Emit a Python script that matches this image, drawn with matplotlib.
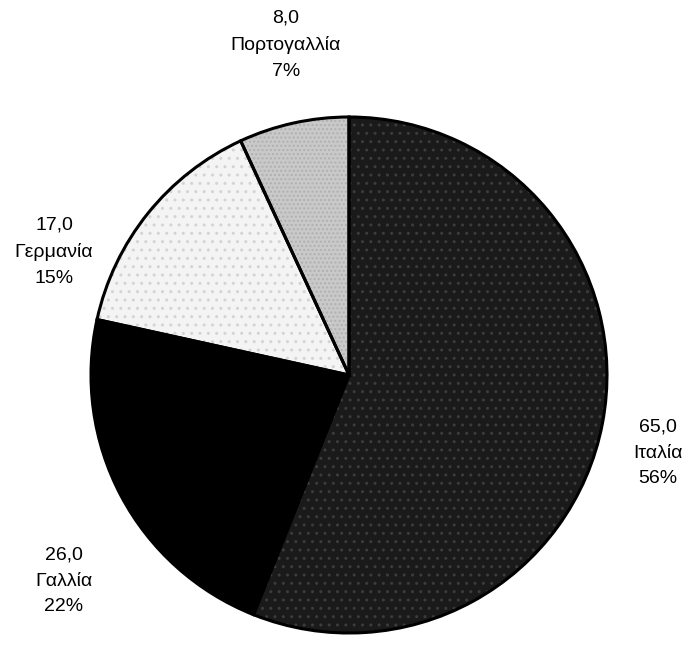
import matplotlib
matplotlib.use('Agg')
import matplotlib.pyplot as plt

plt.rcParams['font.family'] = ['Liberation Sans', 'DejaVu Sans']

# data
countries = ['Ιταλία', 'Γαλλία', 'Γερμανία', 'Πορτογαλλία']
values = [65.0, 26.0, 17.0, 8.0]
colors = ['#1a1a1a', '#000000', '#f4f4f4', '#c9c9c9']

total = sum(values)
labels = ['{:.1f}'.format(v).replace('.', ',') + '\n' + c + '\n' + '{:.0f}%'.format(100 * v / total)
          for v, c in zip(values, countries)]

# label layout (pixel coords, y from top)
label_pos = [(658, 453), (64, 581), (54, 252), (286, 45)]

fig = plt.figure(figsize=(6.89, 6.46), dpi=100)
ax = fig.add_axes([0, 0, 1, 1])

wedges, _ = ax.pie(values, colors=colors, startangle=90, counterclock=False,
                   center=(349, 646 - 375), radius=258, frame=True,
                   wedgeprops=dict(linewidth=0))
# light texture on the patterned slices
wedges[0].set_hatch('..')
wedges[0].set_edgecolor('#3c3c3c')
wedges[2].set_hatch('..')
wedges[2].set_edgecolor('#d4d4d4')
wedges[3].set_hatch('....')
wedges[3].set_edgecolor('#b0b0b0')
# outlines on top
ax.pie(values, colors=['none'] * 4, startangle=90, counterclock=False,
       center=(349, 646 - 375), radius=258, frame=True,
       wedgeprops=dict(edgecolor='black', linewidth=2.2, facecolor='none'))
ax.set_xlim(0, 689)
ax.set_ylim(0, 646)
ax.set_aspect('equal')
ax.axis('off')

for lab, (x, y) in zip(labels, label_pos):
    ax.text(x, 646 - y, lab, ha='center', va='center', fontsize=14,
            linespacing=1.68, color='black')

plt.savefig('out.png', dpi=100)
